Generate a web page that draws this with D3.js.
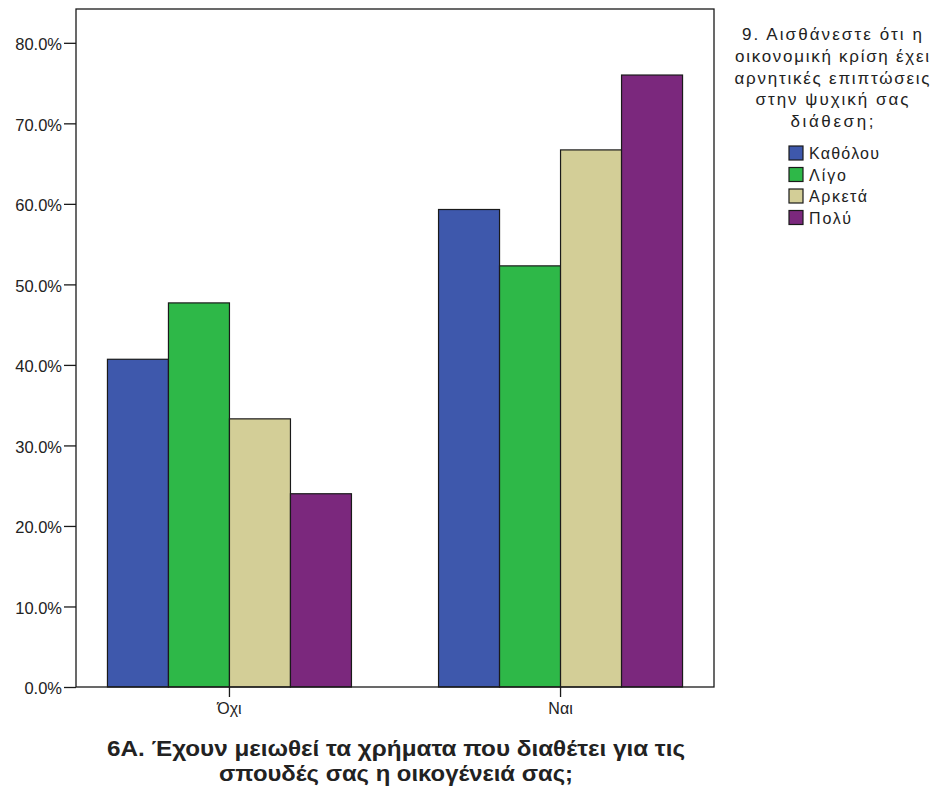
<!DOCTYPE html>
<html>
<head>
<meta charset="utf-8">
<script src="https://cdn.jsdelivr.net/npm/d3@7"></script>
<style>
  body { margin: 0; background: #fff; }
  text { font-family: "Liberation Sans", Arial, sans-serif; fill: #222; }
</style>
</head>
<body>
<svg id="chart" width="938" height="787"></svg>
<script>
const categories = ["Όχι", "Ναι"];
const seriesNames = ["Καθόλου", "Λίγο", "Αρκετά", "Πολύ"];
const seriesColors = ["#3E58AC", "#2EB848", "#D3CE97", "#7B287D"];
const valuesKatholou = [40.7, 59.3];
const valuesLigo = [47.7, 52.3];
const valuesArketa = [33.3, 66.7];
const valuesPoly = [24.0, 76.0];
const yTicks = [0, 10, 20, 30, 40, 50, 60, 70, 80];
const xTitleLines = ["6A. Έχουν μειωθεί τα χρήματα που διαθέτει για τις", "σπουδές σας η οικογένειά σας;"];
const legendTitleLines = ["9. Αισθάνεστε ότι η", "οικονομική κρίση έχει", "αρνητικές επιπτώσεις", "στην ψυχική σας", "διάθεση;"];

const seriesValues = [valuesKatholou, valuesLigo, valuesArketa, valuesPoly];

// layout (pixel styling, not data)
const plot = { left: 76, right: 714, top: 9, bottom: 687 };
const legendTitleWidths = [180, 194, 195, 153, 83];
const legendTitleCenter = 832;
const legendItemWidths = [70, 37, 58, 42];
const xTitleWidths = [578, 354];
const xTitleCenter = 396;

const svg = d3.select("#chart");

const y = d3.scaleLinear().domain([0, 84.2]).range([plot.bottom, plot.top]);
const x0 = d3.scaleBand().domain(categories).range([plot.left, plot.right])
  .paddingInner(0.263).paddingOuter(0.095);
const x1 = d3.scaleBand().domain(seriesNames).range([0, x0.bandwidth()]);

// bars
const groups = svg.append("g").selectAll("g").data(categories).join("g")
  .attr("transform", d => `translate(${x0(d)},0)`);
groups.selectAll("rect")
  .data((c, ci) => seriesNames.map((s, si) => ({ s, si, v: seriesValues[si][ci] })))
  .join("rect")
  .attr("x", d => x1(d.s))
  .attr("y", d => y(d.v))
  .attr("width", x1.bandwidth())
  .attr("height", d => y(0) - y(d.v))
  .attr("fill", d => seriesColors[d.si])
  .attr("stroke", "#1a1a1a")
  .attr("stroke-width", 1.2);

// frame
svg.append("rect")
  .attr("x", plot.left).attr("y", plot.top)
  .attr("width", plot.right - plot.left).attr("height", plot.bottom - plot.top)
  .attr("fill", "none").attr("stroke", "#1a1a1a").attr("stroke-width", 1.3);

// y axis
const yAxis = d3.axisLeft(y).tickValues(yTicks).tickSize(12).tickPadding(2)
  .tickFormat(d => d3.format(".1f")(d) + "%");
const gy = svg.append("g").attr("transform", `translate(${plot.left},0)`).call(yAxis);
gy.select(".domain").remove();
gy.selectAll(".tick line").attr("stroke", "#1a1a1a").attr("stroke-width", 1.3);
gy.selectAll(".tick text").style("font-size", "16.5px").attr("fill", "#222")
  .attr("dy", "0.42em");

// x axis
const xAxis = d3.axisBottom(x0).tickSize(10).tickPadding(6);
const gx = svg.append("g").attr("transform", `translate(0,${plot.bottom})`).call(xAxis);
gx.select(".domain").remove();
gx.selectAll(".tick line").attr("stroke", "#1a1a1a").attr("stroke-width", 1.3);
gx.selectAll(".tick text").style("font-size", "16px").attr("fill", "#222");

// x title
svg.append("g").selectAll("text").data(xTitleLines).join("text")
  .attr("x", (d, i) => xTitleCenter - xTitleWidths[i] / 2)
  .attr("y", (d, i) => 756 + i * 25)
  .attr("textLength", (d, i) => xTitleWidths[i])
  .attr("lengthAdjust", "spacingAndGlyphs")
  .style("font-size", "22px").style("font-weight", "bold").attr("fill", "#111")
  .text(d => d);

// legend title
svg.append("g").selectAll("text").data(legendTitleLines).join("text")
  .attr("x", (d, i) => legendTitleCenter - legendTitleWidths[i] / 2)
  .attr("y", (d, i) => 40 + i * 21.75)
  .attr("textLength", (d, i) => legendTitleWidths[i])
  .attr("lengthAdjust", "spacing")
  .style("font-size", "17px")
  .text(d => d);

// legend items
const legend = svg.append("g").attr("transform", "translate(789,146)");
const items = legend.selectAll("g").data(seriesNames).join("g")
  .attr("transform", (d, i) => `translate(0,${i * 21.5})`);
items.append("rect").attr("width", 14).attr("height", 14)
  .attr("fill", (d, i) => seriesColors[i]).attr("stroke", "#1a1a1a").attr("stroke-width", 1.2);
items.append("text").attr("x", 20).attr("y", 13)
  .attr("textLength", (d, i) => legendItemWidths[i])
  .attr("lengthAdjust", "spacing")
  .style("font-size", "16px").text(d => d);
</script>
</body>
</html>
